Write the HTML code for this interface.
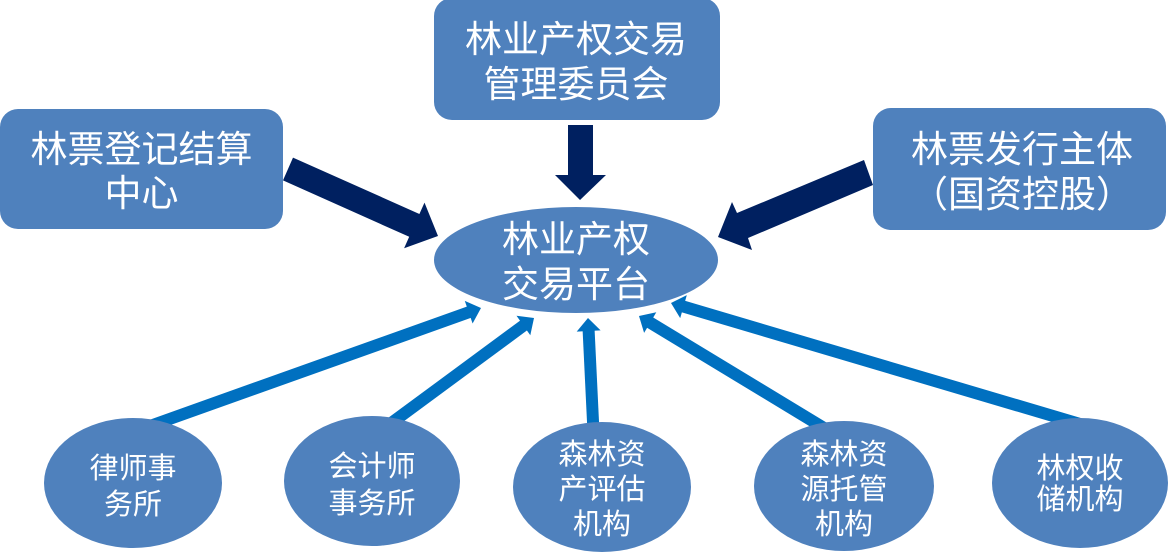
<!DOCTYPE html>
<html>
<head>
<meta charset="utf-8">
<style>
html,body{margin:0;padding:0;background:#fff;}
body{width:1169px;height:556px;overflow:hidden;}
svg{display:block;}
text{font-family:"Liberation Sans","Noto Sans CJK SC","WenQuanYi Zen Hei",sans-serif;fill:#fff;text-anchor:middle;}
</style>
</head>
<body>
<svg width="1169" height="556" viewBox="0 0 1169 556" xmlns="http://www.w3.org/2000/svg">
  <!-- dark arrows -->
  <polygon fill="#002060" points="293,157.6 419.4,214 424.5,202.6 438,236 404.1,248.2 409.2,236.8 283,180.4"/>
  <polygon fill="#002060" points="864,160 737,213 732,202 718,237 752,250 748,238 873,185"/>
  <polygon fill="#002060" points="568,125 593,125 593,175 606,175 580,200 555,175 568,175"/>

  <!-- blue arrows -->
  <g stroke="#0070C0" stroke-width="12" fill="none">
    <line x1="150" y1="426" x2="469.5" y2="312"/>
    <line x1="390" y1="424" x2="524" y2="325.2"/>
    <line x1="593.3" y1="428" x2="588.6" y2="330"/>
    <line x1="824" y1="428" x2="649.5" y2="322.2"/>
    <line x1="1080" y1="424" x2="682.8" y2="306.4"/>
  </g>
  <g fill="#0070C0">
    <polygon points="481,308 472.6,323.5 464.8,300.9"/>
    <polygon points="534,318 530.3,335.3 516.5,315.7"/>
    <polygon points="588,318 600.6,330.4 576.7,331.6"/>
    <polygon points="639,316 644.1,332.9 656.3,312.3"/>
    <polygon points="671,303 680.2,318.1 686.8,295.1"/>
  </g>

  <!-- boxes -->
  <rect x="434" y="-2" width="286" height="122" rx="18" ry="18" fill="#4F81BD"/>
  <rect x="0" y="109" width="283" height="120" rx="18" ry="18" fill="#4F81BD"/>
  <rect x="873" y="108" width="293" height="122" rx="18" ry="18" fill="#4F81BD"/>

  <!-- central ellipse -->
  <ellipse cx="576" cy="260" rx="142" ry="53" fill="#4F81BD"/>

  <!-- bottom ellipses -->
  <ellipse cx="133" cy="483" rx="89" ry="65" fill="#4F81BD"/>
  <ellipse cx="372" cy="481" rx="88" ry="65" fill="#4F81BD"/>
  <ellipse cx="602" cy="487" rx="89" ry="65" fill="#4F81BD"/>
  <ellipse cx="844" cy="486" rx="90" ry="65" fill="#4F81BD"/>
  <ellipse cx="1080" cy="483" rx="88" ry="65" fill="#4F81BD"/>

  <!-- texts -->
  <g font-size="37">
    <text x="576" y="52">林业产权交易</text>
    <text x="576" y="97">管理委员会</text>
    <text x="141.5" y="162">林票登记结算</text>
    <text x="141.5" y="206">中心</text>
    <text x="1022" y="162">林票发行主体</text>
    <text x="1022" y="207">（国资控股）</text>
    <text x="576" y="252">林业产权</text>
    <text x="576" y="297">交易平台</text>
  </g>
  <g font-size="29">
    <text x="133" y="478">律师事</text>
    <text x="133" y="514">务所</text>
    <text x="372" y="476">会计师</text>
    <text x="372" y="513">事务所</text>
    <text x="602" y="464">森林资</text>
    <text x="602" y="499">产评估</text>
    <text x="602" y="534">机构</text>
    <text x="844" y="464">森林资</text>
    <text x="844" y="499">源托管</text>
    <text x="844" y="534">机构</text>
    <text x="1080" y="478">林权收</text>
    <text x="1080" y="509">储机构</text>
  </g>
</svg>
</body>
</html>
